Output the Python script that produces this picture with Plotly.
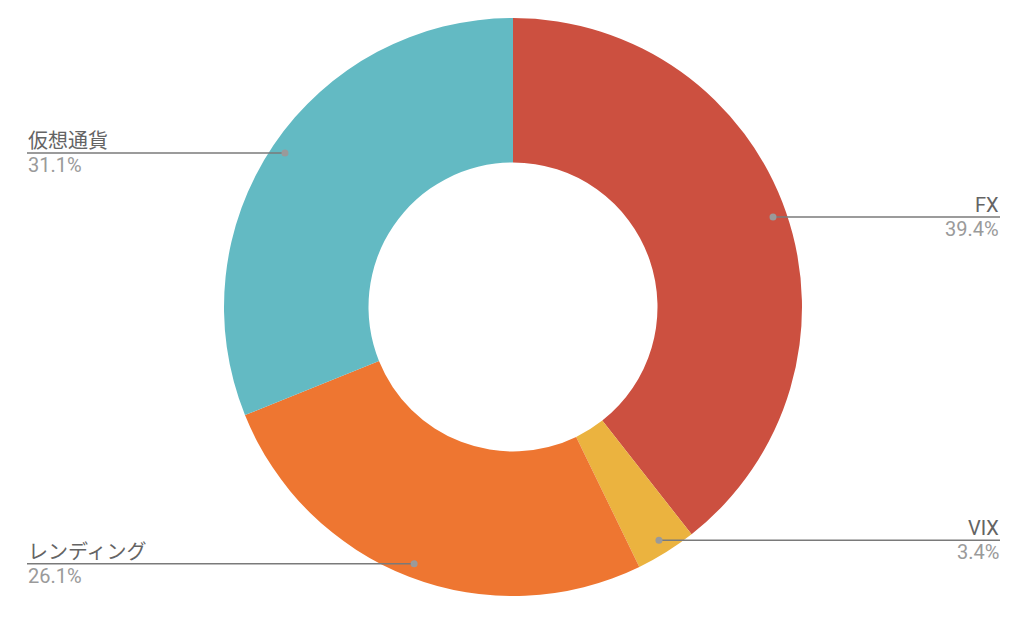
import math
import plotly.graph_objects as go

labels = ["FX", "VIX", "レンディング", "仮想通貨"]
values = [39.4, 3.4, 26.1, 31.1]
colors = ["#CC5040", "#EBB33F", "#EE7631", "#63BAC3"]

W, H = 1024, 619
OFF = 8  # default page body margin
cx, cy, R = 513 - OFF, 307 - OFF, 289
hole = 0.5

fig = go.Figure(go.Pie(
    labels=labels, values=values, sort=False, direction="clockwise",
    rotation=0, hole=hole, textinfo="none",
    marker=dict(colors=colors, line=dict(width=0)),
    domain=dict(x=[(cx - R) / W, (cx + R) / W], y=[1 - (cy + R) / H, 1 - (cy - R) / H]),
    showlegend=False,
))

total = sum(values)
cum = 0
shapes, annos = [], []
X = lambda x: x / W
Y = lambda y: 1 - y / H
for lab, v in zip(labels, values):
    mid = (cum + v / 2) / total * 2 * math.pi
    cum += v
    r = R * 0.952
    px = cx + r * math.sin(mid)
    py = cy - r * math.cos(mid)
    right = math.sin(mid) >= 0
    ex = (1000 if right else 27) - OFF
    shapes.append(dict(type="line", xref="paper", yref="paper", x0=X(px), y0=Y(py), x1=X(ex), y1=Y(py),
                       line=dict(color="#7a7a7a", width=1.5)))
    shapes.append(dict(type="circle", xref="paper", yref="paper", x0=X(px - 3.5), x1=X(px + 3.5),
                       y0=Y(py + 3.5), y1=Y(py - 3.5), fillcolor="#9a9a9a", line=dict(width=0)))
    anchor = "right" if right else "left"
    annos.append(dict(x=X(ex), y=Y(py), xref="paper", yref="paper", text=lab, showarrow=False,
                      xanchor=anchor, yanchor="bottom", yshift=-1, borderpad=0,
                      font=dict(size=20, color="#646464")))
    annos.append(dict(x=X(ex), y=Y(py), xref="paper", yref="paper", text=f"{v:.1f}%", showarrow=False,
                      xanchor=anchor, yanchor="top", yshift=1, borderpad=0,
                      font=dict(size=20, color="#9a9a9a")))

fig.update_layout(
    width=W, height=H, margin=dict(l=0, r=0, t=0, b=0),
    paper_bgcolor="white", plot_bgcolor="white",
    font=dict(family="Roboto, 'Noto Sans CJK JP', sans-serif"),
    shapes=shapes, annotations=annos,
)
fig.write_html("out.html")
